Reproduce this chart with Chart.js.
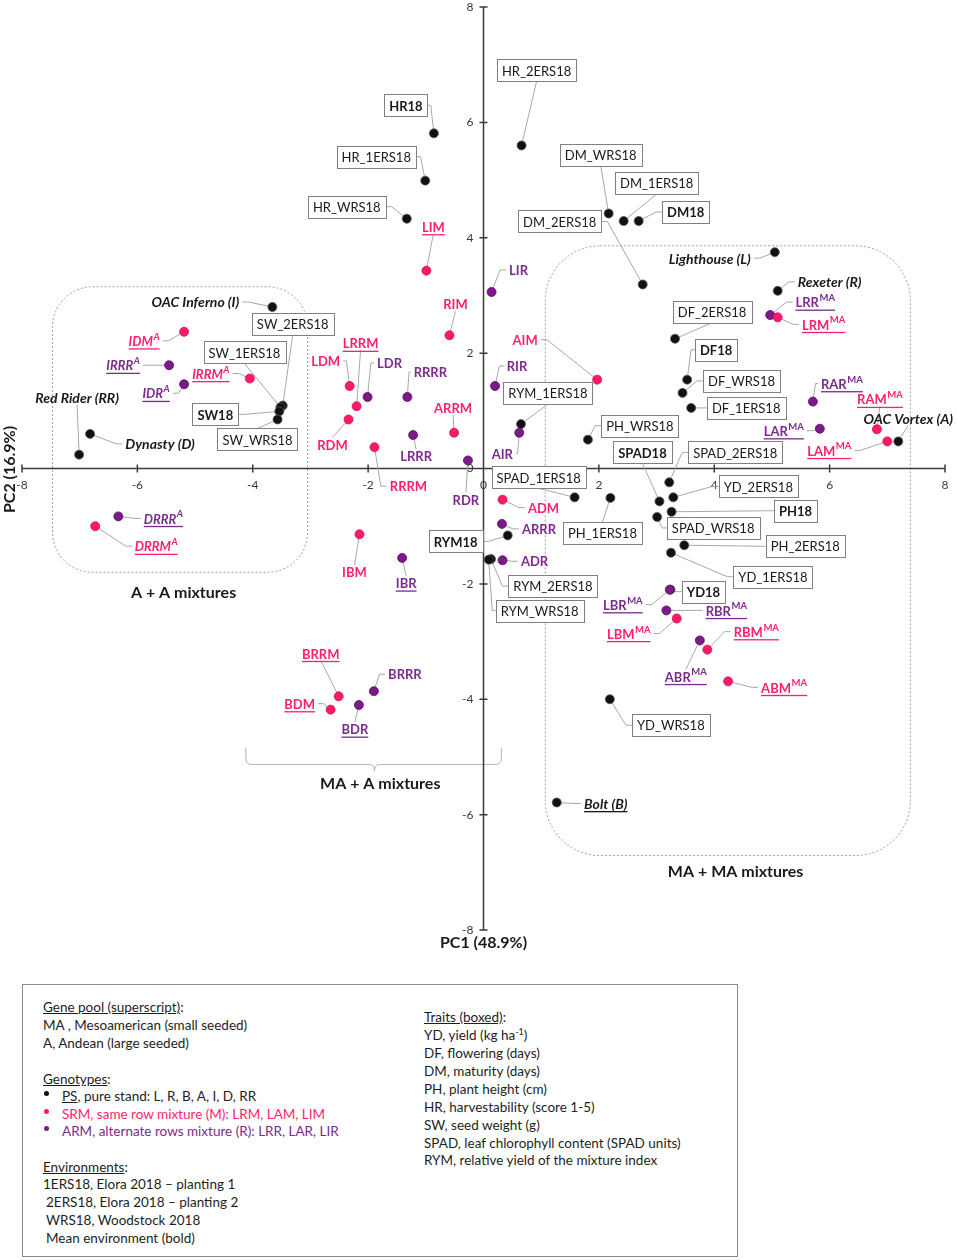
<!DOCTYPE html>
<html>
<head>
<meta charset="utf-8">
<script src="https://cdn.jsdelivr.net/npm/chart.js@4.4.1/dist/chart.umd.min.js"></script>
<style>
  body { margin: 0; background: #fff; }
  #wrap { position: relative; width: 957px; height: 1260px; }
  #biplot { position: absolute; left: 0; top: 0; }
  #legend { position: absolute; left: 22px; top: 984px; width: 714px; height: 271px;
            border: 1px solid #8a8a8a; font-family: Lato, sans-serif; font-size: 13.5px; color: #1e1e1e; }
  .ln { position: absolute; white-space: pre; line-height: 18px; }
  .u { text-decoration: underline; }
  .pink { color: #ff1f6e; }
  .purple { color: #7b2c8c; }
  .dot { position: absolute; width: 5px; height: 5px; border-radius: 50%; }
  sup { font-size: 9px; line-height: 0; }
</style>
</head>
<body>
<div id="wrap">
  <canvas id="biplot" width="957" height="960"></canvas>
  <div id="legend">
    <div class="ln" style="left:20px;top:13px"><span class="u">Gene pool (superscript)</span>:</div>
    <div class="ln" style="left:20px;top:31px">MA , Mesoamerican (small seeded)</div>
    <div class="ln" style="left:20px;top:49px">A, Andean (large seeded)</div>
    <div class="ln" style="left:20px;top:85px"><span class="u">Genotypes</span>:</div>
    <div class="dot" style="left:21px;top:106px;background:#111"></div>
    <div class="ln" style="left:39px;top:102px"><span class="u">PS</span>, pure stand: L, R, B, A, I, D, RR</div>
    <div class="dot" style="left:21px;top:124px;background:#ff1a6c"></div>
    <div class="ln pink" style="left:39px;top:120px">SRM, same row mixture (M): LRM, LAM, LIM</div>
    <div class="dot" style="left:21px;top:141px;background:#7b1a88"></div>
    <div class="ln purple" style="left:39px;top:137px">ARM, alternate rows mixture (R): LRR, LAR, LIR</div>
    <div class="ln" style="left:20px;top:173px"><span class="u">Environments</span>:</div>
    <div class="ln" style="left:20px;top:190px">1ERS18, Elora 2018 – planting 1</div>
    <div class="ln" style="left:23px;top:208px">2ERS18, Elora 2018 – planting 2</div>
    <div class="ln" style="left:23px;top:226px">WRS18, Woodstock 2018</div>
    <div class="ln" style="left:23px;top:244px">Mean environment (bold)</div>

    <div class="ln" style="left:401px;top:23px"><span class="u">Traits (boxed)</span>:</div>
    <div class="ln" style="left:401px;top:41px">YD, yield (kg ha<sup>-1</sup>)</div>
    <div class="ln" style="left:401px;top:59px">DF, flowering (days)</div>
    <div class="ln" style="left:401px;top:77px">DM, maturity (days)</div>
    <div class="ln" style="left:401px;top:95px">PH, plant height (cm)</div>
    <div class="ln" style="left:401px;top:113px">HR, harvestability (score 1-5)</div>
    <div class="ln" style="left:401px;top:131px">SW, seed weight (g)</div>
    <div class="ln" style="left:401px;top:149px">SPAD, leaf chlorophyll content (SPAD units)</div>
    <div class="ln" style="left:401px;top:166px">RYM, relative yield of the mixture index</div>
  </div>
</div>
<script>
// axis ticks
const xTicks = [-8, -6, -4, -2, 0, 2, 4, 6, 8];
const yTicks = [-8, -6, -4, -2, 0, 2, 4, 6, 8];

// trait vectors (boxed labels, black points)
const traitNames = ['HR18', 'HR_1ERS18', 'HR_WRS18', 'HR_2ERS18', 'DM_WRS18', 'DM_1ERS18', 'DM18', 'DM_2ERS18',
  'DF_2ERS18', 'DF18', 'DF_WRS18', 'DF_1ERS18', 'RYM_1ERS18', 'PH_WRS18', 'SPAD18', 'SPAD_2ERS18',
  'YD_2ERS18', 'PH18', 'SPAD_WRS18', 'PH_2ERS18', 'YD_1ERS18', 'YD18', 'PH_1ERS18', 'SPAD_1ERS18',
  'RYM18', 'RYM_2ERS18', 'RYM_WRS18', 'YD_WRS18', 'SW_2ERS18', 'SW_1ERS18', 'SW18', 'SW_WRS18'];
const traitX = [-0.86, -1.01, -1.33, 0.66, 2.17, 2.43, 2.69, 2.76,
  3.32, 3.53, 3.45, 3.60, 0.65, 1.81, 3.05, 3.22,
  3.29, 3.26, 3.01, 3.48, 3.25, 3.24, 2.20, 1.58,
  0.42, 0.13, 0.09, 2.19, -3.48, -3.52, -3.54, -3.57];
const traitY = [5.81, 4.99, 4.33, 5.60, 4.42, 4.29, 4.29, 3.19,
  2.25, 1.54, 1.31, 1.05, 0.77, 0.50, -0.57, -0.24,
  -0.50, -0.75, -0.84, -1.33, -1.46, -2.10, -0.51, -0.50,
  -1.16, -1.57, -1.58, -4.00, 1.09, 1.06, 0.99, 0.85];

// pure stands (black points)
const pureNames = ['OAC Inferno (I)', 'Red Rider (RR)', 'Dynasty (D)', 'Lighthouse (L)', 'Rexeter (R)', 'OAC Vortex (A)', 'Bolt (B)'];
const pureX = [-3.66, -7.01, -6.82, 5.05, 5.10, 7.19, 1.27];
const pureY = [2.80, 0.24, 0.60, 3.75, 3.08, 0.47, -5.79];

// same row mixtures (pink)
const srmNames = ['IDM^A', 'IRRM^A', 'LDM', 'LRRM', 'RDM', 'RRRM', 'ARRM', 'RIM', 'DRRM^A', 'IBM', 'LIM',
  'AIM', 'LRM^MA', 'RAM^MA', 'LAM^MA', 'ADM', 'LBM^MA', 'RBM^MA', 'ABM^MA', 'BRRM', 'BDM'];
const srmX = [-5.19, -4.05, -2.32, -2.20, -2.34, -1.89, -0.51, -0.59, -6.73, -2.15, -0.99,
  1.97, 5.10, 6.82, 7.00, 0.33, 3.35, 3.88, 4.24, -2.51, -2.65];
const srmY = [2.37, 1.56, 1.43, 1.08, 0.85, 0.37, 0.62, 2.31, -1.00, -1.14, 3.43,
  1.54, 2.62, 0.68, 0.47, -0.54, -2.60, -3.14, -3.69, -3.95, -4.18];

// alternate rows mixtures (purple)
const armNames = ['IRRR^A', 'IDR^A', 'LDR', 'RRRR', 'LRRR', 'RDR', 'DRRR^A', 'IBR', 'LIR', 'RIR', 'AIR',
  'LRR^MA', 'RAR^MA', 'LAR^MA', 'ARRR', 'ADR', 'LBR^MA', 'RBR^MA', 'ABR^MA', 'BRRR', 'BDR'];
const armX = [-5.45, -5.19, -2.01, -1.32, -1.22, -0.27, -6.33, -1.41, 0.14, 0.20, 0.62,
  4.97, 5.71, 5.83, 0.32, 0.33, 3.23, 3.17, 3.75, -1.90, -2.16];
const armY = [1.79, 1.46, 1.24, 1.24, 0.58, 0.14, -0.83, -1.55, 3.06, 1.43, 0.62,
  2.66, 1.16, 0.69, -0.96, -1.59, -2.10, -2.46, -2.98, -3.86, -4.10];

// ---- layout only below this line ----

// label centre offset from its point, in pixels
const labelOffset = {
  'HR18': [-28, -28], 'HR_1ERS18': [-49, -24], 'HR_WRS18': [-60, -12], 'HR_2ERS18': [15, -75],
  'DM_WRS18': [-8, -59], 'DM_1ERS18': [33, -38], 'DM18': [47, -9], 'DM_2ERS18': [-83, -63],
  'DF_2ERS18': [37, -27], 'DF18': [29, -30], 'DF_WRS18': [59, -12], 'DF_1ERS18': [55, 0],
  'RYM_1ERS18': [27, -31], 'PH_WRS18': [52, -14], 'SPAD18': [-17, -49], 'SPAD_2ERS18': [66, -30],
  'YD_2ERS18': [85, -11], 'PH18': [124, -1], 'SPAD_WRS18': [56, 11], 'PH_2ERS18': [121, 1],
  'YD_1ERS18': [102, 24], 'YD18': [33, 2], 'PH_1ERS18': [-8, 35], 'SPAD_1ERS18': [-36, -20],
  'RYM18': [-52, 6], 'RYM_2ERS18': [62, 27], 'RYM_WRS18': [51, 51], 'YD_WRS18': [61, 26],
  'SW_2ERS18': [10, -82], 'SW_1ERS18': [-36, -55], 'SW18': [-64, 3], 'SW_WRS18': [-20, 20],
  'OAC Inferno (I)': [-77, -5], 'Red Rider (RR)': [-2, -57], 'Dynasty (D)': [70, 10],
  'Lighthouse (L)': [-65, 6], 'Rexeter (R)': [52, -9], 'OAC Vortex (A)': [10, -23], 'Bolt (B)': [49, 1],
  'IDM^A': [-40, 9], 'IRRM^A': [-39, -5], 'LDM': [-24, -25], 'LRRM': [4, -63], 'RDM': [-16, 25],
  'RRRM': [34, 39], 'ARRM': [-1, -25], 'RIM': [6, -31], 'DRRM^A': [61, 20], 'IBM': [-5, 38],
  'LIM': [7, -44], 'AIM': [-72, -40], 'LRM^MA': [46, 7], 'RAM^MA': [3, -30], 'LAM^MA': [-58, 9],
  'ADM': [41, 8], 'LBM^MA': [-48, 15], 'RBM^MA': [49, -18], 'ABM^MA': [56, 6], 'BRRM': [-18, -43],
  'BDM': [-31, -6],
  'IRRR^A': [-46, 0], 'IDR^A': [-28, 9], 'LDR': [22, -34], 'RRRR': [23, -25], 'LRRR': [3, 21],
  'RDR': [-2, 39], 'DRRR^A': [45, 2], 'IBR': [4, 25], 'LIR': [27, -22], 'RIR': [22, -20],
  'AIR': [-17, 21], 'LRR^MA': [45, -13], 'RAR^MA': [29, -18], 'LAR^MA': [-36, 2], 'ARRR': [37, 5],
  'ADR': [32, 1], 'LBR^MA': [-47, 15], 'RBR^MA': [60, 0], 'ABR^MA': [-14, 36], 'BRRR': [31, -17],
  'BDR': [-4, 24]
};
const underlined = ['LIM', 'LRRM', 'IBR', 'BRRM', 'BDM', 'BDR', 'Bolt (B)'];

// dotted group outlines and their titles (data units)
const groupBoxes = [
  { x0: -7.47, x1: -3.05, y0: -1.80, y1: 3.15, r: 40 },
  { x0: 1.07, x1: 7.40, y0: -6.71, y1: 3.86, r: 55 }
];
const brace = { x0: -4.12, x1: 0.31, xm: -1.89, yTop: -4.84, yLine: -5.13 };
const groupTitles = [
  { text: 'A + A mixtures', x: -5.20, y: -2.15 },
  { text: 'MA + A mixtures', x: -1.79, y: -5.46 },
  { text: 'MA + MA mixtures', x: 4.37, y: -7.00 }
];

const PINK = '#ff1a6c', PURPLE = '#7b1a88';
const FONT = 'Lato, "Open Sans", sans-serif';

function toPoints(xs, ys) {
  return xs.map((v, i) => ({ x: v, y: ys[i] }));
}

function labelSpec(name, kind) {
  const parts = name.split('^');
  const spec = { name: name, main: parts[0], sup: parts[1] || '', kind: kind };
  if (kind === 'trait') {
    spec.boxed = true;
    spec.font = (/^[A-Z]+18$/.test(name) ? '700 ' : '400 ') + '13px ' + FONT;
    spec.color = '#1a1a1a';
  } else if (kind === 'pure') {
    spec.font = 'italic 700 14px ' + FONT;
    spec.color = '#1a1a1a';
  } else {
    const it = spec.sup === 'A' ? 'italic ' : '';
    spec.font = it + '700 13px ' + FONT;
    spec.supFont = it + '700 9.5px ' + FONT;
    spec.color = kind === 'srm' ? '#ff1f6e' : '#7b2c8c';
  }
  spec.underline = !!spec.sup || underlined.includes(name);
  return spec;
}

function measure(ctx, spec) {
  ctx.font = spec.font;
  spec.wm = ctx.measureText(spec.main).width;
  spec.ws = 0;
  if (spec.sup) {
    ctx.font = spec.supFont;
    spec.ws = ctx.measureText(spec.sup).width + 0.5;
  }
  spec.tw = spec.wm + spec.ws;
  spec.w = spec.boxed ? spec.tw + 10 : spec.tw;
  spec.h = spec.boxed ? 22 : 14;
}

function roundedRect(ctx, l, t, w, h, r) {
  ctx.beginPath();
  ctx.moveTo(l + r, t);
  ctx.lineTo(l + w - r, t);
  ctx.arcTo(l + w, t, l + w, t + r, r);
  ctx.lineTo(l + w, t + h - r);
  ctx.arcTo(l + w, t + h, l + w - r, t + h, r);
  ctx.lineTo(l + r, t + h);
  ctx.arcTo(l, t + h, l, t + h - r, r);
  ctx.lineTo(l, t + r);
  ctx.arcTo(l, t, l + r, t, r);
  ctx.closePath();
}

const allLabels = [];
traitNames.forEach((n, i) => allLabels.push({ spec: labelSpec(n, 'trait'), x: traitX[i], y: traitY[i] }));
pureNames.forEach((n, i) => allLabels.push({ spec: labelSpec(n, 'pure'), x: pureX[i], y: pureY[i] }));
srmNames.forEach((n, i) => allLabels.push({ spec: labelSpec(n, 'srm'), x: srmX[i], y: srmY[i] }));
armNames.forEach((n, i) => allLabels.push({ spec: labelSpec(n, 'arm'), x: armX[i], y: armY[i] }));

const annotations = {
  id: 'annotations',
  beforeDatasetsDraw(chart) {
    const { ctx, scales: { x, y } } = chart;
    ctx.save();

    // group outlines
    ctx.strokeStyle = '#9c9c9c';
    ctx.lineWidth = 1;
    ctx.setLineDash([2, 2]);
    groupBoxes.forEach(b => {
      const l = x.getPixelForValue(b.x0), r = x.getPixelForValue(b.x1);
      const t = y.getPixelForValue(b.y1), btm = y.getPixelForValue(b.y0);
      roundedRect(ctx, l, t, r - l, btm - t, b.r);
      ctx.stroke();
    });
    ctx.setLineDash([]);

    // brace under the MA + A group
    const bl = x.getPixelForValue(brace.x0), br = x.getPixelForValue(brace.x1), bm = x.getPixelForValue(brace.xm);
    const bt = y.getPixelForValue(brace.yTop), by = y.getPixelForValue(brace.yLine);
    ctx.strokeStyle = '#b4b4b4';
    ctx.beginPath();
    ctx.moveTo(bl, bt);
    ctx.lineTo(bl, by - 6);
    ctx.quadraticCurveTo(bl, by, bl + 6, by);
    ctx.lineTo(bm - 5, by);
    ctx.quadraticCurveTo(bm, by, bm, by + 7);
    ctx.quadraticCurveTo(bm, by, bm + 5, by);
    ctx.lineTo(br - 6, by);
    ctx.quadraticCurveTo(br, by, br, by - 6);
    ctx.lineTo(br, bt);
    ctx.stroke();

    // axes through the origin
    const x0 = x.getPixelForValue(0), y0 = y.getPixelForValue(0);
    ctx.strokeStyle = '#3a3a3a';
    ctx.lineWidth = 1.5;
    ctx.beginPath();
    ctx.moveTo(x.left, y0); ctx.lineTo(x.right, y0);
    ctx.moveTo(x0, y.top); ctx.lineTo(x0, y.bottom);
    xTicks.forEach(v => { const p = x.getPixelForValue(v); ctx.moveTo(p, y0 - 4); ctx.lineTo(p, y0 + 4); });
    yTicks.forEach(v => { const p = y.getPixelForValue(v); ctx.moveTo(x0 - 4, p); ctx.lineTo(x0 + 4, p); });
    ctx.stroke();

    ctx.fillStyle = '#3a3a3a';
    ctx.font = '12px ' + FONT;
    ctx.textAlign = 'center';
    ctx.textBaseline = 'top';
    xTicks.forEach(v => ctx.fillText(String(v), x.getPixelForValue(v), y0 + 11));
    ctx.textAlign = 'right';
    ctx.textBaseline = 'middle';
    yTicks.forEach(v => ctx.fillText(String(v), x0 - 10, y.getPixelForValue(v)));

    // axis titles
    ctx.fillStyle = '#1a1a1a';
    ctx.font = '700 16px ' + FONT;
    ctx.textAlign = 'center';
    ctx.fillText('PC1 (48.9%)', x0, y.bottom + 13);
    ctx.save();
    ctx.translate(10, y0 + 1);
    ctx.rotate(-Math.PI / 2);
    ctx.fillText('PC2 (16.9%)', 0, 0);
    ctx.restore();

    // leader lines
    ctx.strokeStyle = '#a8a8a8';
    ctx.lineWidth = 1;
    allLabels.forEach(it => {
      const s = it.spec;
      measure(ctx, s);
      const off = labelOffset[s.name] || [0, -14];
      const px = x.getPixelForValue(it.x), py = y.getPixelForValue(it.y);
      const cx = px + off[0], cy = py + off[1];
      it.cx = cx; it.cy = cy;
      const gap = s.boxed ? 0 : 3;
      const l = cx - s.w / 2 - gap, r = cx + s.w / 2 + gap, t = cy - s.h / 2, b = cy + s.h / 2;
      ctx.beginPath();
      if (px > r + 3) {
        ctx.moveTo(r, cy); ctx.lineTo(r + Math.min(6, (px - r) / 2), cy);
      } else if (px < l - 3) {
        ctx.moveTo(l, cy); ctx.lineTo(l - Math.min(6, (l - px) / 2), cy);
      } else if (py > b) {
        ctx.moveTo(cx, b);
      } else if (py < t) {
        ctx.moveTo(cx, t);
      } else {
        return;
      }
      ctx.lineTo(px, py);
      ctx.stroke();
    });
    ctx.restore();
  },
  afterDatasetsDraw(chart) {
    const { ctx, scales: { x, y } } = chart;
    ctx.save();
    ctx.textBaseline = 'middle';
    ctx.textAlign = 'left';
    allLabels.forEach(it => {
      const s = it.spec;
      const left = it.cx - s.tw / 2;
      if (s.boxed) {
        const bx = Math.round(it.cx - s.w / 2) + 0.5, byy = Math.round(it.cy - s.h / 2) + 0.5;
        ctx.fillStyle = '#fff';
        ctx.fillRect(bx, byy, Math.round(s.w), s.h);
        ctx.strokeStyle = '#808080';
        ctx.lineWidth = 1;
        ctx.strokeRect(bx, byy, Math.round(s.w), s.h);
      }
      ctx.fillStyle = s.color;
      ctx.font = s.font;
      ctx.fillText(s.main, left, it.cy + 1);
      if (s.sup) {
        ctx.font = s.supFont;
        ctx.fillText(s.sup, left + s.wm + 0.5, it.cy - 4);
      }
      if (s.underline) {
        ctx.fillRect(left, it.cy + 7.5, s.tw, 1.3);
      }
    });

    // group titles
    ctx.fillStyle = '#1a1a1a';
    ctx.font = '700 16px ' + FONT;
    ctx.textAlign = 'center';
    groupTitles.forEach(g => ctx.fillText(g.text, x.getPixelForValue(g.x), y.getPixelForValue(g.y)));
    ctx.restore();
  }
};

const pointStyle = (fill, edge) => ({
  backgroundColor: fill, borderColor: edge, borderWidth: 0.8,
  pointRadius: 4.5, pointHoverRadius: 4.5
});

new Chart(document.getElementById('biplot'), {
  type: 'scatter',
  data: {
    datasets: [
      Object.assign({ label: 'SRM', data: toPoints(srmX, srmY) }, pointStyle(PINK, '#d0104f')),
      Object.assign({ label: 'ARM', data: toPoints(armX, armY) }, pointStyle(PURPLE, '#5a0f66')),
      Object.assign({ label: 'Pure stand', data: toPoints(pureX, pureY) }, pointStyle('#111', '#555')),
      Object.assign({ label: 'Traits', data: toPoints(traitX, traitY) }, pointStyle('#111', '#555'))
    ]
  },
  options: {
    responsive: false,
    animation: false,
    layout: { padding: { left: 22, right: 12, top: 7, bottom: 30 } },
    plugins: { legend: { display: false }, tooltip: { enabled: false } },
    scales: {
      x: { type: 'linear', min: -8, max: 8, display: false },
      y: { type: 'linear', min: -8, max: 8, display: false }
    }
  },
  plugins: [annotations]
});
</script>
</body>
</html>
